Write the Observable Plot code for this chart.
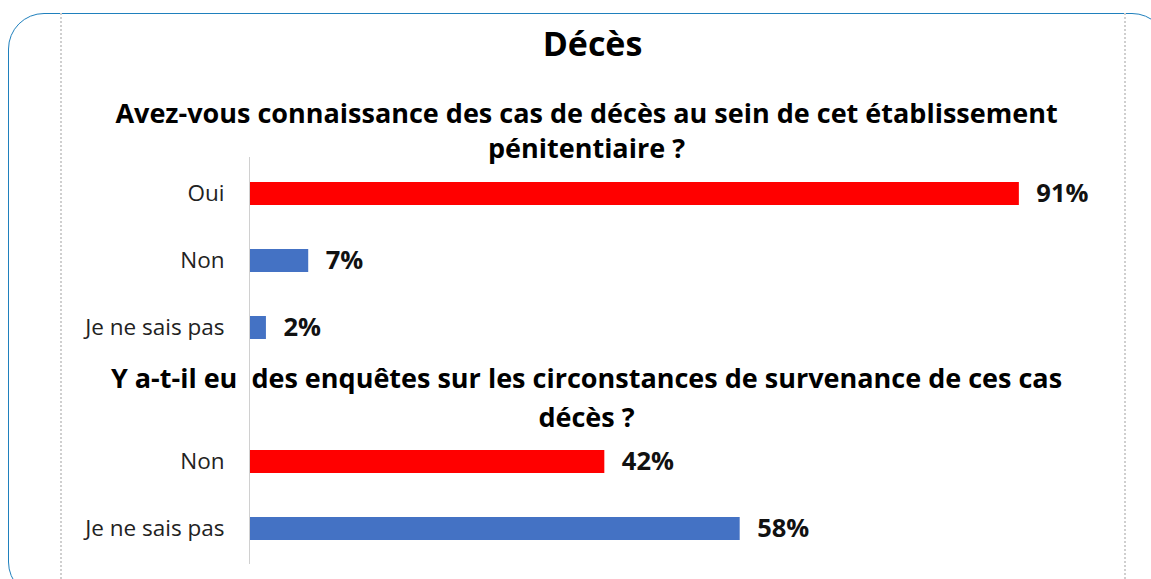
<!DOCTYPE html>
<html>
<head>
<meta charset="utf-8">
<script src="https://cdn.jsdelivr.net/npm/d3@7"></script>
<script src="https://cdn.jsdelivr.net/npm/@observablehq/plot@0.6"></script>
<style>
  html, body { margin: 0; padding: 0; background: #fff; }
  #wrap { position: relative; width: 1151px; height: 579px; overflow: hidden; font-family: "Open Sans", Lato, sans-serif; color: #000; }
  .frame { position: absolute; left: 8px; top: 13px; width: 1160px; height: 585px; border: 1.5px solid #1f80bd; border-radius: 36px; box-sizing: border-box; }
  .vline { position: absolute; top: 13px; bottom: 0; width: 0; border-left: 2px dotted #cfcfcf; }
  .t { position: absolute; left: 0; width: 1151px; text-align: center; font-weight: 700; white-space: nowrap; line-height: normal; }
  #chart { position: absolute; left: 0; top: 0; }
</style>
</head>
<body>
<div id="wrap">
  <div class="frame"></div>
  <div class="vline" style="left:60px"></div>
  <div class="vline" style="left:1124px"></div>
  <div id="chart"></div>
  <div class="t" id="title" style="top:20px;font-size:34px;left:17px;">Décès</div>
  <div class="t" id="q1a" style="top:94px;font-size:27px;left:11px;">Avez-vous connaissance des cas de décès au sein de cet établissement</div>
  <div class="t" id="q1b" style="top:129px;font-size:27px;left:11px;">pénitentiaire ?</div>
  <div class="t" id="q2a" style="top:359px;font-size:27px;left:11px;">Y a-t-il eu&nbsp; des enquêtes sur les circonstances de survenance de ces cas</div>
  <div class="t" id="q2b" style="top:398px;font-size:27px;left:11px;">décès ?</div>
</div>
<script>
// Question 1
const q1Categories = ["Oui", "Non", "Je ne sais pas"];
const q1Values = [91, 7, 2];
// Question 2
const q2Categories = ["Non", "Je ne sais pas"];
const q2Values = [42, 58];

const red = "#ff0000";
const blue = "#4472c4";

const rows = [];
q1Categories.forEach((c, i) => rows.push({key: "q1|" + c, label: c, value: q1Values[i], first: i === 0}));
const spacer = "gap|";
q2Categories.forEach((c, i) => rows.push({key: "q2|" + c, label: c, value: q2Values[i], first: i === 0}));
const domain = [...rows.slice(0, q1Categories.length).map(d => d.key), spacer, ...rows.slice(q1Categories.length).map(d => d.key)];

const chart = Plot.plot({
  width: 1151,
  height: 579,
  marginTop: 157,
  marginBottom: 15,
  marginLeft: 249,
  marginRight: 56,
  style: {fontFamily: "'Open Sans', Lato, sans-serif", background: "transparent", overflow: "visible"},
  x: {domain: [0, 100], axis: null},
  y: {domain, type: "band", paddingInner: 0.66, paddingOuter: 0.33, label: null,
      tickFormat: k => k.split("|")[1]},
  marks: [
    Plot.axisY({tickSize: 0, tickPadding: 25, fontSize: 22.5, fill: "#222", label: null,
      tickFormat: k => k.split("|")[1]}),
    Plot.barX(rows, {x: "value", y: "key", fill: d => d.first ? red : blue}),
    Plot.ruleX([0], {stroke: "#d0d0d0", strokeWidth: 1}),
    Plot.text(rows, {x: "value", y: "key", text: d => d.value + "%", textAnchor: "start", dx: 17,
      fontWeight: "bold", fontSize: 25.5, fill: "#111"})
  ]
});
document.getElementById("chart").appendChild(chart);
</script>
</body>
</html>
